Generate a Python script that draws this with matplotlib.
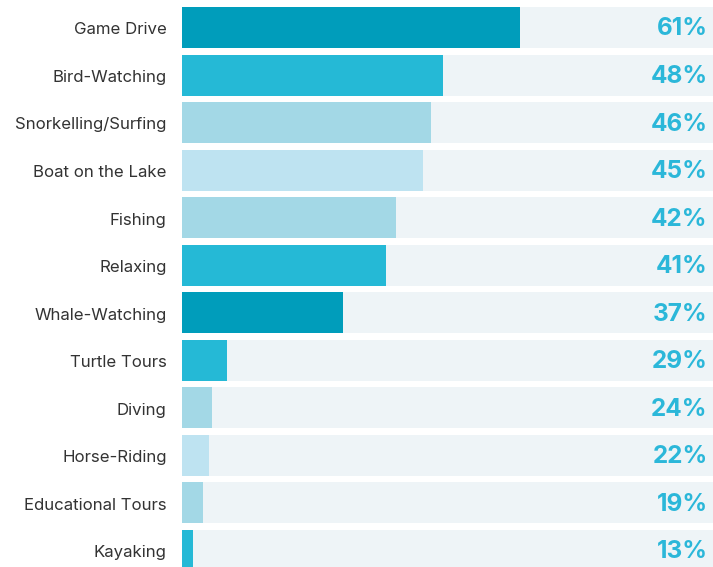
import matplotlib
matplotlib.use("Agg")
import matplotlib.pyplot as plt

activities = ["Game Drive", "Bird-Watching", "Snorkelling/Surfing", "Boat on the Lake",
              "Fishing", "Relaxing", "Whale-Watching", "Turtle Tours", "Diving",
              "Horse-Riding", "Educational Tours", "Kayaking"]
shares = [61, 48, 46, 45, 42, 41, 37, 29, 24, 22, 19, 13]
# bar lengths as drawn in the original (share of the track), not proportional to labels
bar_lengths = [63.7, 49.2, 46.9, 45.4, 40.3, 38.4, 30.3, 8.5, 5.6, 5.1, 4.0, 2.1]
shade = ["dark", "mid", "light", "pale", "light", "mid", "dark", "mid", "light",
         "pale", "light", "mid"]

palette = {"dark": "#009dbb", "mid": "#25b9d6", "light": "#a3d8e6", "pale": "#bee3f1"}

fig = plt.figure(figsize=(7.13, 5.67), dpi=100)
ax = fig.add_axes([182 / 713, 0, 1 - 182 / 713, 1])

y = range(len(activities))
h = 41 / 47.55
ax.barh(y, [100] * len(activities), height=h, color="#eef4f7", zorder=1)
ax.barh(y, bar_lengths, height=h, color=[palette[s] for s in shade], zorder=2)

for i, (name, s) in enumerate(zip(activities, shares)):
    ax.text(-15.5 / 531 * 100, i + 0.05, name, ha="right", va="center", fontsize=12.1,
            family="Inter", color="#333333", clip_on=False)
    ax.text(99.0, i + 0.03, f"{s}%", ha="right", va="center", fontsize=17.5,
            fontweight="bold", family="Inter", color="#2bb7d9", zorder=3)

ax.set_xlim(0, 100)
ax.set_ylim(11.347, -0.578)
ax.axis("off")

fig.savefig("out.png", dpi=100)
